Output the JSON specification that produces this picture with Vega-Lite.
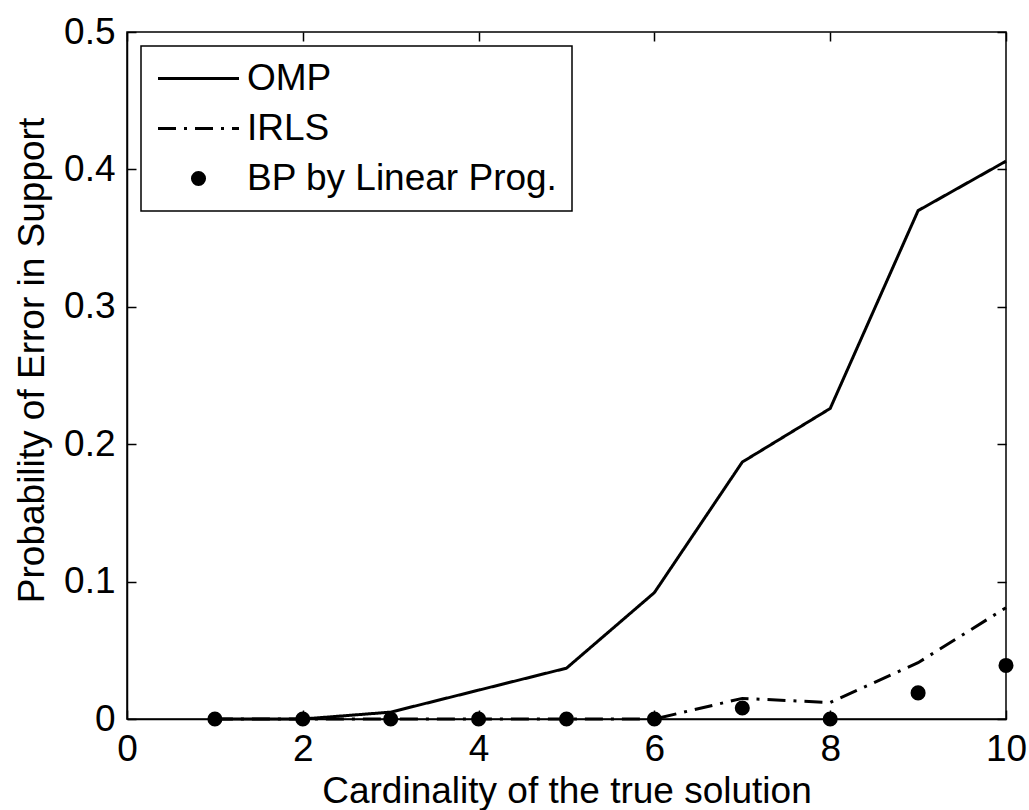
{
  "$schema": "https://vega.github.io/schema/vega-lite/v6.json",
  "width": 879,
  "height": 687,
  "autosize": "none",
  "padding": {"left": 127, "top": 32, "right": 23, "bottom": 91},
  "background": "white",
  "config": {
    "font": "Liberation Sans",
    "view": {"stroke": "black", "strokeWidth": 1.5},
    "axis": {
      "grid": false,
      "domainColor": "black",
      "domainWidth": 1.5,
      "tickColor": "black",
      "tickWidth": 1.5,
      "tickSize": 9,
      "labelColor": "black",
      "labelFont": "Liberation Sans",
      "labelFontSize": 37,
      "labelFlush": false,
      "titleColor": "black",
      "titleFont": "Liberation Sans",
      "titleFontSize": 37,
      "titleFontWeight": "normal"
    },
    "legend": {
      "labelFont": "Liberation Sans",
      "labelFontSize": 37,
      "labelColor": "black",
      "labelLimit": 0
    }
  },
  "data": {
    "values": [
      {"n": 1, "method": "OMP", "p": 0.0},
      {"n": 2, "method": "OMP", "p": 0.0},
      {"n": 3, "method": "OMP", "p": 0.005},
      {"n": 4, "method": "OMP", "p": 0.021},
      {"n": 5, "method": "OMP", "p": 0.037},
      {"n": 6, "method": "OMP", "p": 0.092},
      {"n": 7, "method": "OMP", "p": 0.187},
      {"n": 8, "method": "OMP", "p": 0.226},
      {"n": 9, "method": "OMP", "p": 0.370},
      {"n": 10, "method": "OMP", "p": 0.406},
      {"n": 1, "method": "IRLS", "p": 0.0},
      {"n": 2, "method": "IRLS", "p": 0.0},
      {"n": 3, "method": "IRLS", "p": 0.0},
      {"n": 4, "method": "IRLS", "p": 0.0},
      {"n": 5, "method": "IRLS", "p": 0.0},
      {"n": 6, "method": "IRLS", "p": 0.0},
      {"n": 7, "method": "IRLS", "p": 0.015},
      {"n": 8, "method": "IRLS", "p": 0.012},
      {"n": 9, "method": "IRLS", "p": 0.041},
      {"n": 10, "method": "IRLS", "p": 0.081},
      {"n": 1, "method": "BP by Linear Prog.", "p": 0.0},
      {"n": 2, "method": "BP by Linear Prog.", "p": 0.0},
      {"n": 3, "method": "BP by Linear Prog.", "p": 0.0},
      {"n": 4, "method": "BP by Linear Prog.", "p": 0.0},
      {"n": 5, "method": "BP by Linear Prog.", "p": 0.0},
      {"n": 6, "method": "BP by Linear Prog.", "p": 0.0},
      {"n": 7, "method": "BP by Linear Prog.", "p": 0.008},
      {"n": 8, "method": "BP by Linear Prog.", "p": 0.0},
      {"n": 9, "method": "BP by Linear Prog.", "p": 0.019},
      {"n": 10, "method": "BP by Linear Prog.", "p": 0.039}
    ]
  },
  "resolve": {"axis": {"x": "independent", "y": "independent"}},
  "layer": [
    {
      "transform": [{"filter": "datum.method === 'OMP'"}],
      "mark": {"type": "line", "color": "black", "strokeWidth": 3},
      "encoding": {
        "x": {
          "field": "n", "type": "quantitative",
          "scale": {"domain": [0, 10], "nice": false, "zero": false},
          "axis": {
            "title": "Cardinality of the true solution",
            "values": [0, 2, 4, 6, 8, 10],
            "ticks": false,
            "labelPadding": 12,
            "titleBaseline": "alphabetic",
            "titleY": 83
          }
        },
        "y": {
          "field": "p", "type": "quantitative",
          "scale": {"domain": [0, 0.5], "nice": false},
          "axis": {
            "title": "Probability of Error in Support",
            "values": [0, 0.1, 0.2, 0.3, 0.4, 0.5],
            "format": ".1~f",
            "ticks": false,
            "labelPadding": 12,
            "titlePadding": 12,
            "titleY": 328
          }
        },
        "strokeDash": {
          "field": "method", "type": "nominal",
          "scale": {
            "domain": ["OMP", "IRLS", "BP by Linear Prog."],
            "range": [[1, 0], [18, 8, 3, 8], [1, 0]]
          },
          "legend": {
            "title": null,
            "orient": "top-left",
            "offset": 14,
            "padding": 14,
            "strokeColor": "black",
            "fillColor": "white",
            "symbolType": "stroke",
            "symbolSize": 6561,
            "symbolStrokeWidth": 3,
            "symbolStrokeColor": "black",
            "symbolOffset": 25,
            "labelOffset": 30,
            "rowPadding": 12,
            "encode": {
              "legend": {"update": {"strokeWidth": {"value": 1.5}}},
              "symbols": {
                "update": {
                  "shape": {"signal": "datum.value === 'BP by Linear Prog.' ? 'circle' : 'stroke'"},
                  "size": {"signal": "datum.value === 'BP by Linear Prog.' ? 227 : 6561"},
                  "fill": {"signal": "datum.value === 'BP by Linear Prog.' ? 'black' : 'transparent'"},
                  "stroke": {"value": "black"},
                  "strokeWidth": {"signal": "datum.value === 'BP by Linear Prog.' ? 0 : 3"},
                  "strokeDash": {"signal": "datum.value === 'IRLS' ? [18, 8, 3, 8] : [1, 0]"}
                }
              }
            }
          }
        }
      }
    },
    {
      "transform": [{"filter": "datum.method === 'IRLS'"}],
      "mark": {"type": "line", "color": "black", "strokeWidth": 3},
      "encoding": {
        "x": {
          "field": "n", "type": "quantitative",
          "axis": {"orient": "top", "offset": -687, "values": [0, 2, 4, 6, 8, 10], "labels": false, "title": null, "domain": false}
        },
        "y": {
          "field": "p", "type": "quantitative",
          "axis": {"orient": "right", "offset": -879, "values": [0, 0.1, 0.2, 0.3, 0.4, 0.5], "labels": false, "title": null, "domain": false}
        },
        "strokeDash": {
          "field": "method", "type": "nominal",
          "scale": {
            "domain": ["OMP", "IRLS", "BP by Linear Prog."],
            "range": [[1, 0], [18, 8, 3, 8], [1, 0]]
          },
          "legend": {
            "title": null,
            "orient": "top-left",
            "offset": 14,
            "padding": 14,
            "strokeColor": "black",
            "fillColor": "white",
            "symbolType": "stroke",
            "symbolSize": 6561,
            "symbolStrokeWidth": 3,
            "symbolStrokeColor": "black",
            "symbolOffset": 25,
            "labelOffset": 30,
            "rowPadding": 12,
            "encode": {
              "legend": {"update": {"strokeWidth": {"value": 1.5}}},
              "symbols": {
                "update": {
                  "shape": {"signal": "datum.value === 'BP by Linear Prog.' ? 'circle' : 'stroke'"},
                  "size": {"signal": "datum.value === 'BP by Linear Prog.' ? 227 : 6561"},
                  "fill": {"signal": "datum.value === 'BP by Linear Prog.' ? 'black' : 'transparent'"},
                  "stroke": {"value": "black"},
                  "strokeWidth": {"signal": "datum.value === 'BP by Linear Prog.' ? 0 : 3"},
                  "strokeDash": {"signal": "datum.value === 'IRLS' ? [18, 8, 3, 8] : [1, 0]"}
                }
              }
            }
          }
        }
      }
    },
    {
      "transform": [{"filter": "datum.method === 'BP by Linear Prog.'"}],
      "mark": {"type": "point", "shape": "circle", "filled": true, "color": "black", "size": 227, "opacity": 1},
      "encoding": {
        "x": {
          "field": "n", "type": "quantitative",
          "axis": {"orient": "bottom", "offset": -687, "values": [0, 2, 4, 6, 8, 10], "labels": false, "title": null, "domain": false}
        },
        "y": {
          "field": "p", "type": "quantitative",
          "axis": {"orient": "left", "offset": -879, "values": [0, 0.1, 0.2, 0.3, 0.4, 0.5], "labels": false, "title": null, "domain": false}
        }
      }
    }
  ]
}
